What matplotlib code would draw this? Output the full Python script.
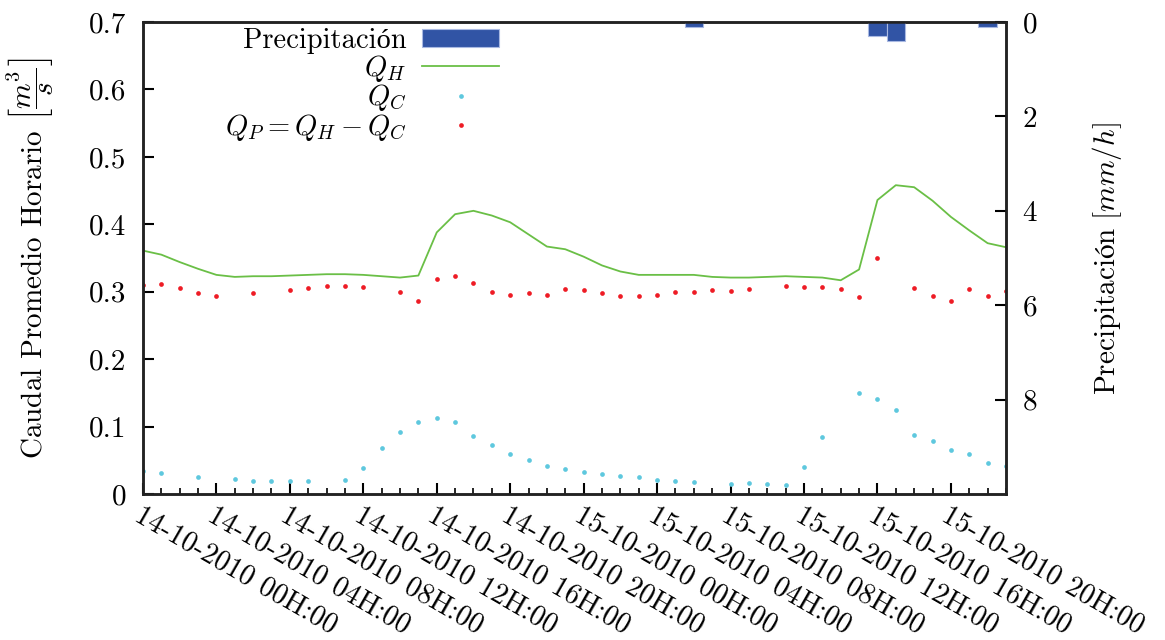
import numpy as np
import matplotlib
matplotlib.use('Agg')
import matplotlib.pyplot as plt

nan = np.nan

# horas contadas desde 14-10-2010 00H:00
horas = np.arange(48)

# caudal horario total
q_h = [0.361, 0.355, 0.344, 0.334, 0.325, 0.322, 0.323, 0.323, 0.324, 0.325, 0.326, 0.326,
       0.325, 0.323, 0.321, 0.324, 0.388, 0.415, 0.420, 0.413, 0.403, 0.385, 0.367, 0.363,
       0.352, 0.339, 0.330, 0.325, 0.325, 0.325, 0.325, 0.322, 0.321, 0.321, 0.322, 0.323,
       0.322, 0.321, 0.317, 0.333, 0.436, 0.458, 0.455, 0.435, 0.411, 0.391, 0.372, 0.366]

# caudal Q_C
q_c = [0.0346, 0.0307, nan, 0.0252, nan, 0.0222, 0.0198, 0.0193, 0.0188, 0.0193, nan, 0.0212,
       0.0390, 0.0677, 0.0915, 0.1073, 0.1127, 0.1073, 0.0855, 0.0731, 0.0598, 0.0500, 0.0415, 0.0371,
       0.0326, 0.0292, 0.0262, 0.0252, 0.0212, 0.0193, 0.0173, nan, 0.0153, 0.0159, 0.0144, 0.0129,
       0.0400, 0.0850, nan, 0.1498, 0.1413, 0.1246, 0.0870, 0.0780, 0.0653, 0.0598, 0.0464, 0.0420]

# Q_P = Q_H - Q_C
q_p = [0.3095, 0.311, 0.305, 0.2985, 0.2941, nan, 0.2976, nan, 0.3025, 0.306, 0.308, 0.3085,
       0.307, nan, 0.300, 0.2858, 0.3193, 0.3228, 0.3129, 0.300, 0.2947, 0.2985, 0.2947, 0.3036,
       0.303, 0.298, 0.2936, 0.2932, 0.2956, 0.2991, 0.300, 0.3021, 0.3015, 0.304, nan, 0.308,
       0.3065, 0.3065, 0.3045, 0.2926, 0.3504, nan, 0.305, 0.2936, 0.2867, 0.3036, 0.2936, 0.3006]

# precipitacion [mm/h]
horas_lluvia = [30, 40, 41, 46]
lluvia = [0.1, 0.3, 0.4, 0.1]

etiquetas = ['14-10-2010 00H:00', '14-10-2010 04H:00', '14-10-2010 08H:00',
             '14-10-2010 12H:00', '14-10-2010 16H:00', '14-10-2010 20H:00',
             '15-10-2010 00H:00', '15-10-2010 04H:00', '15-10-2010 08H:00',
             '15-10-2010 12H:00', '15-10-2010 16H:00', '15-10-2010 20H:00']

# cmr10 no trae la o acentuada, se toma de la segunda familia
plt.rcParams['font.family'] = ['cmr10', 'Liberation Serif']
plt.rcParams['mathtext.fontset'] = 'cm'
plt.rcParams['axes.unicode_minus'] = False
plt.rcParams['font.size'] = 21

fig = plt.figure(figsize=(11.65, 6.4), dpi=100)
ax = fig.add_axes([0.1227, 0.2281, 0.7408, 0.7375])
ax2 = ax.twinx()

l_h, = ax.plot(horas, q_h, color='#6abf46', lw=1.3, label=r'$Q_H$')
l_c, = ax.plot(horas, q_c, 'o', color='#5ec8de', ms=3.4, mew=0, label=r'$Q_C$')
l_p, = ax.plot(horas, q_p, 'o', color='#ee1c25', ms=3.4, mew=0, label=r'$Q_P = Q_H - Q_C$')

barras = ax2.bar(horas_lluvia, lluvia, width=1.0, color='#3154a5', edgecolor='#a9b9e2',
                 linewidth=0.8, label='Precipitación')

ax.set_xlim(0, 47)
ax.set_ylim(0, 0.7)
ax2.set_ylim(10, 0)

ax.set_xticks(range(0, 48, 4))
ax.set_xticks(range(48), minor=True)
ax.set_xticklabels(etiquetas, fontsize=20.5)
plt.setp(ax.get_xticklabels(), rotation=-30, ha='left', va='top', rotation_mode='anchor')

ax.set_yticks(np.arange(0, 0.71, 0.1))
ax.set_yticklabels(['0', '0.1', '0.2', '0.3', '0.4', '0.5', '0.6', '0.7'])
ax2.set_yticks([0, 2, 4, 6, 8])
ax2.set_yticklabels(['0', '2', '4', '6', '8'])

ax.tick_params(axis='x', which='major', direction='in', length=8, width=1.5, pad=6, top=False)
ax.tick_params(axis='x', which='minor', direction='in', length=4, width=1.2, top=False)
ax.tick_params(axis='y', direction='in', length=8, width=1.5, pad=12, right=False)
ax2.tick_params(axis='y', direction='in', length=8, width=1.5, pad=12)

for a in (ax, ax2):
    for s in a.spines.values():
        s.set_linewidth(1.8)
        s.set_color('#222222')

ax.set_ylabel(r'Caudal Promedio Horario $\left[\dfrac{m^3}{s}\right]$', labelpad=24)
ax2.set_ylabel(r'$\mathrm{Precipitación}\ [mm/h]$', labelpad=38)

ax2.legend([barras, l_h, l_c, l_p], [barras.get_label(), l_h.get_label(), l_c.get_label(), l_p.get_label()],
           loc='upper right', bbox_to_anchor=(0.4125, 0.988), markerfirst=False, frameon=False,
           handlelength=2.7, handleheight=0.55, handletextpad=0.55, labelspacing=-0.05,
           numpoints=1, borderaxespad=0, borderpad=0, fontsize=20.5)

fig.savefig('out.png', dpi=100)
